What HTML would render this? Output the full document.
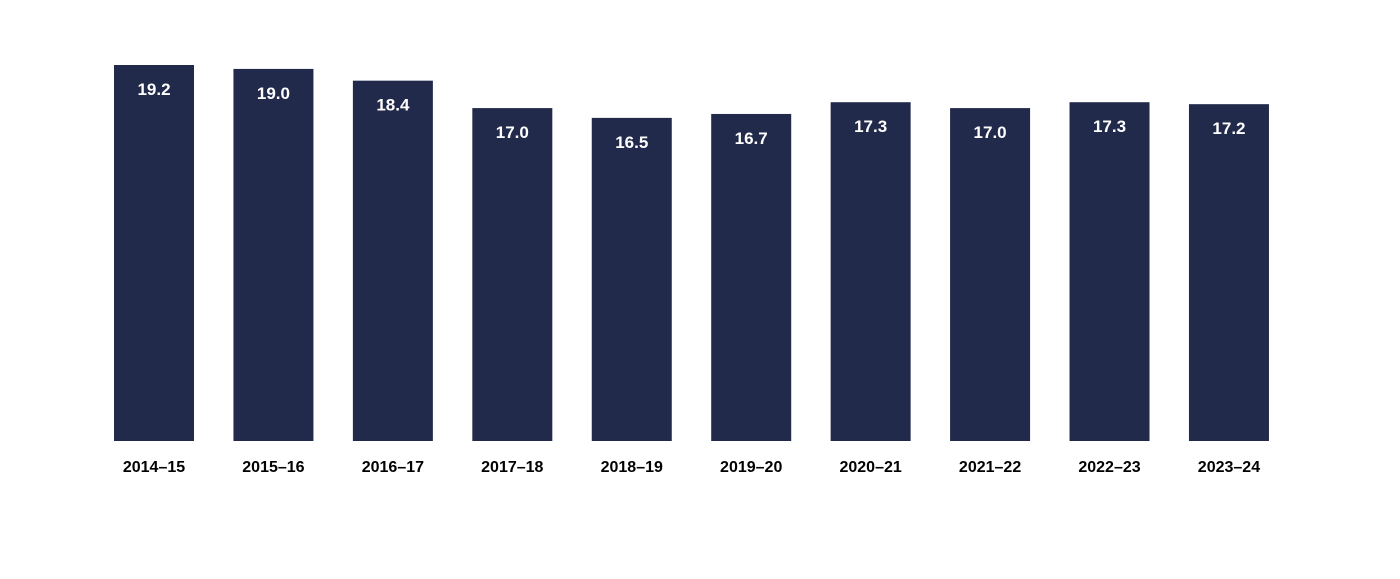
<!DOCTYPE html>
<html><head><meta charset="utf-8"><style>
body{margin:0;background:#fff;}
svg{display:block;font-family:"Liberation Sans",Arial,sans-serif;}
</style></head><body>
<svg id="chart" width="1400" height="579"></svg>
<script>
const categories=["2014–15","2015–16","2016–17","2017–18","2018–19","2019–20","2020–21","2021–22","2022–23","2023–24"];
const values=[19.2,19.0,18.4,17.0,16.5,16.7,17.3,17.0,17.3,17.2];
const labels=["19.2","19.0","18.4","17.0","16.5","16.7","17.3","17.0","17.3","17.2"];
const svg=document.getElementById('chart');
const NS='http://www.w3.org/2000/svg';
const baseY=441, pxPerUnit=376/19.2, x0=114, step=119.44, bw=80;
function xPos(i){return x0+i*step;}
function yPos(v){return baseY-v*pxPerUnit;}
categories.forEach((c,i)=>{
  const x=xPos(i), y=yPos(values[i]);
  const r=document.createElementNS(NS,'rect');
  r.setAttribute('x',x);r.setAttribute('y',y);r.setAttribute('width',bw);r.setAttribute('height',baseY-y);
  r.setAttribute('fill','#222a4b');
  
  
  svg.appendChild(r);
  const t=document.createElementNS(NS,'text');
  t.setAttribute('x',x+bw/2);t.setAttribute('y',y+30);t.setAttribute('text-anchor','middle');
  t.setAttribute('fill','#fff');t.setAttribute('font-size','17');t.setAttribute('font-weight','bold');
  t.textContent=labels[i];
  
  
  svg.appendChild(t);
  const l=document.createElementNS(NS,'text');
  l.setAttribute('x',x+bw/2);l.setAttribute('y',472);l.setAttribute('text-anchor','middle');
  l.setAttribute('fill','#000');l.setAttribute('font-size','16');l.setAttribute('font-weight','bold');
  l.textContent=c;
  
  
  svg.appendChild(l);
});
</script>
</body></html>
